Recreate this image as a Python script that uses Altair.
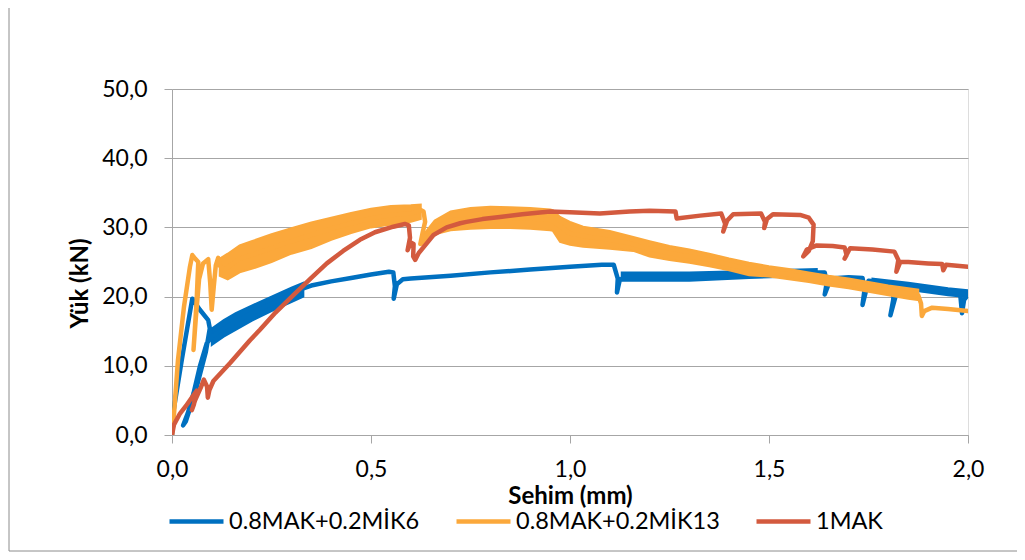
import altair as alt
import pandas as pd

# ---------------- data ----------------
series_names = ["0.8MAK+0.2MİK6", "0.8MAK+0.2MİK13", "1MAK"]
series_colors = ["#0070C0", "#FBA83B", "#D35A3E"]

x_ticks = [0, 0.5, 1.0, 1.5, 2.0]
y_ticks = [0, 10, 20, 30, 40, 50]

# 0.8MAK+0.2MİK6 (blue)
blue_x = [0, 0.003, 0.025, 0.051, 0.07, 0.091, 0.095, 0.085, 0.06, 0.035, 0.028, 0.04, 0.054,
          0.07, 0.087, 0.10, 0.13, 0.16, 0.20, 0.25, 0.30, 0.33, 0.35, 0.40, 0.45, 0.50, 0.545,
          0.556, 0.56, 0.557, 0.565, 0.58, 0.60, 0.70, 0.80, 0.90, 1.00, 1.08, 1.11, 1.12, 1.118,
          1.125, 1.14, 1.30, 1.45, 1.62, 1.64, 1.645, 1.64, 1.655, 1.70, 1.735, 1.74, 1.735, 1.75,
          1.80, 1.815, 1.812, 1.805, 1.825, 1.88, 1.95, 1.98, 1.985, 1.99, 2.0]
blue_y = [0, 3.2, 11.0, 19.7, 18.1, 16.6, 15.4, 12.0, 6.5, 2.0, 1.4, 3.2, 6.0,
          9.9, 13.2, 14.2, 15.4, 16.4, 17.6, 19.0, 20.3, 21.2, 21.6, 22.2, 22.7, 23.2, 23.6,
          23.5, 21.5, 19.7, 21.8, 22.5, 22.6, 23.0, 23.5, 23.9, 24.3, 24.6, 24.6, 22.6, 20.6,
          22.4, 22.9, 22.9, 23.2, 23.5, 23.5, 22.0, 20.3, 22.6, 22.8, 22.7, 21.0, 18.8, 22.3,
          22.0, 21.7, 19.5, 17.3, 21.5, 21.0, 20.7, 20.6, 17.6, 19.5, 20.3]
# noisy (thick) parts of the blue record: x, lower, upper
blue_band1_x = [0.10, 0.13, 0.16, 0.20, 0.25, 0.30, 0.33]
blue_band1_lo = [13.0, 14.2, 15.2, 16.5, 17.9, 19.2, 20.0]
blue_band1_hi = [15.4, 16.6, 17.6, 18.7, 20.0, 21.3, 22.0]
blue_band2_x = [1.13, 1.30, 1.45, 1.62]
blue_band2_lo = [22.3, 22.3, 22.7, 23.0]
blue_band2_hi = [23.5, 23.5, 23.7, 24.0]
blue_band3_x = [1.76, 1.85, 1.95, 2.0]
blue_band3_lo = [21.6, 21.0, 20.2, 19.9]
blue_band3_hi = [22.6, 22.0, 21.2, 20.9]

# 0.8MAK+0.2MİK13 (orange)
orange_x = [0, 0.005, 0.015, 0.03, 0.045, 0.051, 0.058, 0.066, 0.062, 0.056, 0.054, 0.06, 0.068,
            0.078, 0.091, 0.096, 0.0997, 0.105, 0.11, 0.116, 0.12, 0.13, 0.17, 0.20, 0.25, 0.30,
            0.35, 0.40, 0.45, 0.50, 0.55, 0.60, 0.625, 0.632, 0.636, 0.63, 0.624, 0.63, 0.66,
            0.70, 0.75, 0.80, 0.85, 0.90, 0.95, 0.97, 1.0, 1.05, 1.1, 1.15, 1.2, 1.25, 1.3, 1.35,
            1.4, 1.45, 1.5, 1.55, 1.6, 1.65, 1.7, 1.75, 1.8, 1.85, 1.875, 1.882, 1.884, 1.89,
            1.91, 1.95, 2.0]
orange_y = [0, 3.0, 10.8, 18.5, 24.3, 26.0, 25.5, 25.0, 19.5, 14.0, 12.3, 17.0, 22.5,
            24.8, 25.4, 22.0, 18.1, 21.5, 24.5, 25.6, 24.5, 23.8, 25.5, 26.0, 27.0, 28.0,
            28.9, 29.8, 30.6, 31.3, 31.8, 32.0, 32.5, 32.3, 30.8, 29.3, 27.6, 28.2, 30.0,
            31.0, 31.3, 31.5, 31.4, 31.3, 31.1, 30.4, 29.1, 28.6, 28.2, 27.7, 26.9, 26.3, 25.8, 25.3,
            24.6, 24.0, 23.6, 23.2, 22.8, 22.3, 21.9, 21.4, 20.9, 20.4, 20.2, 19.0, 17.2, 17.9,
            18.4, 18.2, 17.9]
orange_band1_x = [0.12, 0.14, 0.17, 0.20, 0.25, 0.30, 0.35, 0.40, 0.45, 0.50, 0.55, 0.60, 0.625]
orange_band1_lo = [23.0, 22.5, 23.5, 24.0, 25.0, 26.2, 27.0, 28.2, 29.2, 30.0, 30.4, 30.8, 31.2]
orange_band1_hi = [25.5, 26.2, 27.4, 28.0, 29.0, 29.9, 30.7, 31.4, 32.1, 32.7, 33.1, 33.2, 33.3]
orange_band2_x = [0.63, 0.66, 0.70, 0.75, 0.80, 0.85, 0.90, 0.95, 0.957, 0.975, 1.0, 1.033, 1.1,
                  1.159, 1.2, 1.25, 1.3, 1.35, 1.4, 1.45, 1.5, 1.55, 1.6, 1.65, 1.7, 1.75, 1.8,
                  1.85, 1.875]
orange_band2_lo = [27.6, 29.0, 29.6, 29.8, 29.9, 29.9, 29.8, 29.6, 29.5, 27.9, 27.5, 27.2, 26.9,
                   26.6, 25.8, 25.3, 24.9, 24.4, 23.8, 23.1, 22.9, 22.5, 22.1, 21.6, 21.2, 20.7,
                   20.2, 19.7, 19.5]
orange_band2_hi = [28.8, 31.0, 32.3, 32.8, 33.0, 32.9, 32.8, 32.6, 32.5, 31.5, 30.8, 30.1, 29.5,
                   28.6, 28.0, 27.3, 26.8, 26.2, 25.5, 24.9, 24.4, 24.0, 23.5, 23.0, 22.6, 22.1,
                   21.6, 21.2, 21.0]

# 1MAK (red)
red_x = [0, 0.005, 0.02, 0.035, 0.052, 0.062, 0.055, 0.05, 0.058, 0.072, 0.08, 0.088, 0.09,
         0.094, 0.104, 0.146, 0.196, 0.221, 0.26, 0.305, 0.35, 0.389, 0.43, 0.472, 0.51, 0.556,
         0.585, 0.595, 0.598, 0.592, 0.6, 0.607, 0.606, 0.611, 0.62, 0.64, 0.657, 0.69, 0.724,
         0.74, 0.78, 0.824, 0.88, 0.95, 1.0, 1.075, 1.15, 1.2, 1.265, 1.268, 1.327, 1.38, 1.39,
         1.385, 1.395, 1.41, 1.48, 1.49, 1.488, 1.495, 1.51, 1.578, 1.60, 1.612, 1.61, 1.60,
         1.586, 1.595, 1.62, 1.66, 1.69, 1.695, 1.69, 1.70, 1.704, 1.76, 1.815, 1.825, 1.82,
         1.83, 1.85, 1.9, 1.935, 1.938, 1.945, 2.0]
red_y = [0, 1.5, 3.1, 4.2, 5.6, 6.4, 4.4, 3.6, 5.0, 6.8, 8.0, 7.0, 5.4,
         6.5, 7.8, 10.4, 13.7, 15.2, 17.7, 20.2, 22.7, 24.8, 26.6, 28.2, 29.3, 30.1,
         30.5, 30.3, 28.5, 26.7, 27.8, 27.6, 25.8, 25.3, 26.3, 27.7, 28.9, 30.0, 30.6,
         30.8, 31.2, 31.5, 31.9, 32.3, 32.2, 32.0, 32.3, 32.4, 32.3, 31.3, 31.7, 32.0, 30.5,
         29.4, 31.0, 31.9, 32.0, 30.8, 29.9, 31.2, 31.9, 31.8, 31.4, 30.4, 28.0, 26.6,
         25.8, 26.8, 27.4, 27.3, 27.1, 26.0, 25.5, 26.6, 27.0, 26.8, 26.5, 25.3, 23.6,
         25.0, 25.0, 24.8, 24.7, 23.8, 24.6, 24.3]

# ---------------- chart ----------------
FONT = "Lato"
GRAY = "#a6a6a6"
label_expr = "replace(format(datum.value, '.1f'), '.', ',')"

x_axis = alt.Axis(values=x_ticks, labelExpr=label_expr, grid=False, tickSize=8,
                  labelPadding=15, labelFontSize=23, labelFont=FONT, labelColor="#000",
                  labelFlush=False, labelOverlap=False,
                  domainColor=GRAY, tickColor=GRAY, titleFont=FONT, titleFontSize=24,
                  titleFontWeight="bold", titleColor="#000", titleBaseline="alphabetic",
                  titleY=68)
y_axis = alt.Axis(values=y_ticks, labelExpr=label_expr, grid=True, gridColor=GRAY, tickSize=8,
                  labelPadding=17, labelFontSize=23, labelFont=FONT, labelColor="#000",
                  labelFlush=False, labelOverlap=False,
                  domainColor=GRAY, tickColor=GRAY, titleFont=FONT, titleFontSize=24,
                  titleFontWeight="bold", titleColor="#000", titleAngle=270,
                  titleBaseline="alphabetic", titleAlign="center", titleX=-85, titleY=194)


def X():
    return alt.X("x:Q", scale=alt.Scale(domain=[0, 2], nice=False), axis=x_axis,
                 title="Sehim (mm)")


def Y(field):
    return alt.Y(f"{field}:Q", scale=alt.Scale(domain=[0, 50], nice=False), axis=y_axis,
                 title="Yük (kN)")


color_enc = alt.Color("s:N", scale=alt.Scale(domain=series_names, range=series_colors),
                      legend=alt.Legend(title=None, orient="none", legendX=-5, legendY=403,
                                        direction="horizontal", columns=3,
                                        symbolType="stroke", symbolSize=2916,
                                        symbolStrokeWidth=4.5, labelFont=FONT,
                                        labelFontSize=23.5, labelColor="#000", labelOffset=3,
                                        labelLimit=0, columnPadding=27, padding=0))


def line_layer(xs, ys, name):
    df = pd.DataFrame({"x": xs, "y": ys, "i": list(range(len(xs))), "s": name})
    return alt.Chart(df).mark_line(strokeWidth=4.5, clip=True, strokeJoin="round",
                                   strokeCap="round").encode(
        x=X(), y=Y("y"), order="i:Q", color=color_enc)


def band_layer(xs, lo, hi, color):
    df = pd.DataFrame({"x": xs, "lo": lo, "hi": hi})
    return alt.Chart(df).mark_area(color=color, opacity=1, clip=True, stroke=color,
                                   strokeWidth=2).encode(x=X(), y=Y("lo"), y2="hi:Q")


dummy = pd.DataFrame({"a": [0]})
border_left = alt.Chart(dummy).mark_rule(color="#8c8c8c", strokeWidth=1).encode(
    x=alt.value(-163), y=alt.value(-81), y2=alt.value(462))
border_bottom = alt.Chart(dummy).mark_rule(color="#8c8c8c", strokeWidth=1).encode(
    x=alt.value(-163), x2=alt.value(845), y=alt.value(462))

chart = alt.layer(
    border_left, border_bottom,
    band_layer(blue_band1_x, blue_band1_lo, blue_band1_hi, series_colors[0]),
    band_layer(blue_band2_x, blue_band2_lo, blue_band2_hi, series_colors[0]),
    band_layer(blue_band3_x, blue_band3_lo, blue_band3_hi, series_colors[0]),
    line_layer(blue_x, blue_y, series_names[0]),
    band_layer(orange_band1_x, orange_band1_lo, orange_band1_hi, series_colors[1]),
    band_layer(orange_band2_x, orange_band2_lo, orange_band2_hi, series_colors[1]),
    line_layer(orange_x, orange_y, series_names[1]),
    line_layer(red_x, red_y, series_names[2]),
).properties(
    width=796, height=346,
    autosize=alt.AutoSizeParams(type="none"),
    padding={"left": 164, "top": 81, "right": 49, "bottom": 117},
).configure_view(stroke=None).configure(background="white")

chart.save("out.html", embed_options={"renderer": "svg", "actions": False})
